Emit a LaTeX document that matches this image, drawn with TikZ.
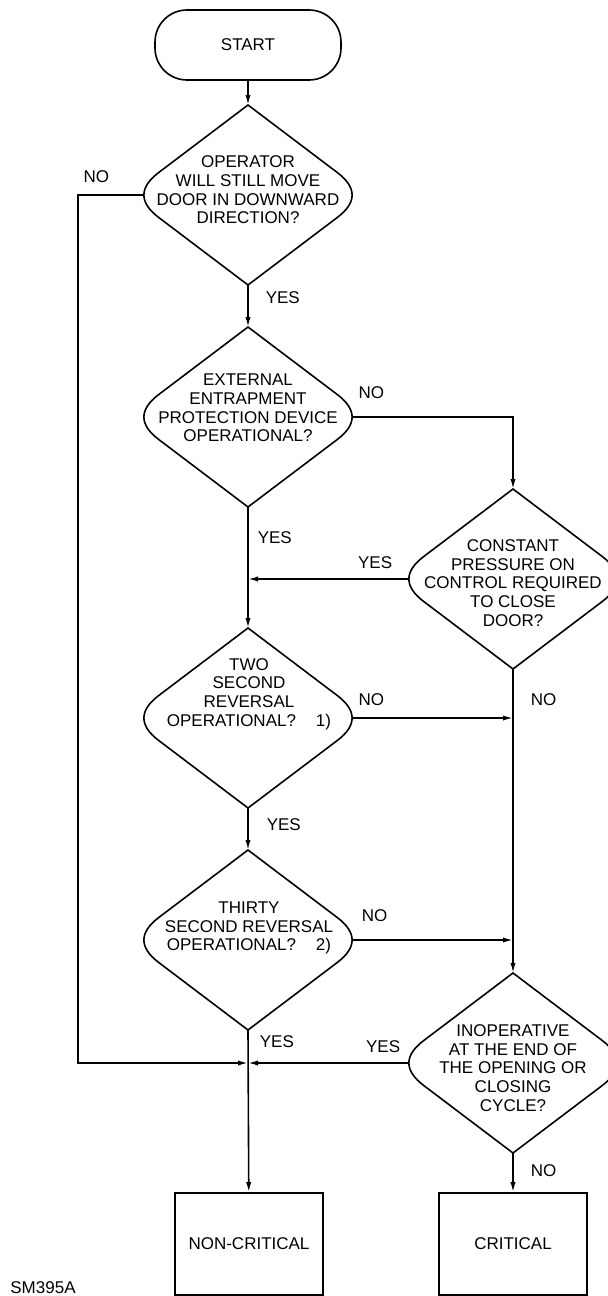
\documentclass[tikz,border=0pt]{standalone}
\usepackage{fontspec}
\setmainfont{Liberation Sans}
\usetikzlibrary{arrows.meta,calc,shapes.geometric,positioning}

\newcommand{\chartfont}{\fontsize{8.5}{9.3}\selectfont}

% outline of a decision with sharp top/bottom and rounded sides
\newcommand{\decisionshape}[1]{%
    \draw[line] (#1.north)
        -- ($(#1.east)!0.25!(#1.north)$)
        .. controls ($(#1.east)!0.0833!(#1.north)$) and ($(#1.east)!0.0833!(#1.south)$) .. ($(#1.east)!0.25!(#1.south)$)
        -- (#1.south)
        -- ($(#1.west)!0.25!(#1.south)$)
        .. controls ($(#1.west)!0.0833!(#1.south)$) and ($(#1.west)!0.0833!(#1.north)$) .. ($(#1.west)!0.25!(#1.north)$)
        -- cycle;
    \coordinate (#1-w) at ($(#1.west)!0.0625!(#1.east)$);
    \coordinate (#1-e) at ($(#1.east)!0.0625!(#1.west)$);
}

\tikzset{
    line/.style={draw, line width=0.8pt},
    flow/.style={draw, line width=0.8pt, -{Latex[length=5pt,width=2.6pt]}},
    decision/.style={shape=diamond, minimum width=119pt, minimum height=90pt, inner sep=0pt, outer sep=0pt},
    qtext/.style={align=center, inner sep=0pt, font=\chartfont},
    terminal/.style={draw, line width=0.8pt, rounded corners=16pt, minimum width=93pt, minimum height=35pt, font=\chartfont},
    result/.style={draw, line width=0.8pt, minimum width=74pt, minimum height=51pt, font=\chartfont},
    lab/.style={inner sep=0pt, font=\chartfont},
}

\begin{document}
\begin{tikzpicture}[x=0.5pt, y=-0.5pt]
    \useasboundingbox (0,0) rectangle (608,1296);

    \node[terminal] (start) at (248,45) {START};

    % decisions
    \node[decision] (d1) at (248,195) {};
    \node[decision] (d2) at (248,417) {};
    \node[decision] (d3) at (513,579) {};
    \node[decision] (d4) at (248,718) {};
    \node[decision] (d5) at (248,940) {};
    \node[decision] (d6) at (513,1063) {};
    \foreach \d in {d1,d2,d3,d4,d5,d6}
    {
        \decisionshape{\d}
    }

    \node[qtext] (q1) at (248,190) {OPERATOR\\WILL STILL MOVE\\DOOR IN DOWNWARD\\DIRECTION?};
    \node[qtext] (q2) at (248,408) {EXTERNAL\\ENTRAPMENT\\PROTECTION DEVICE\\OPERATIONAL?};
    \node[qtext] (q3) at (513,583) {CONSTANT\\PRESSURE ON\\CONTROL REQUIRED\\TO CLOSE\\DOOR?};
    \node[qtext] (q4) at (249,694) {TWO\\SECOND\\REVERSAL\\OPERATIONAL?\hspace{10pt}1)};
    \node[qtext] (q5) at (249,928) {THIRTY\\SECOND REVERSAL\\OPERATIONAL?\hspace{10pt}2)};
    \node[qtext] (q6) at (513,1068) {INOPERATIVE\\AT THE END OF\\THE OPENING OR\\CLOSING\\CYCLE?};

    % outcomes
    \node[result] (noncrit) at (249,1244) {NON-CRITICAL};
    \node[result] (crit) at (513,1244) {CRITICAL};
    \node[lab] (ref) at (43,1288) {SM395A};

    % junctions
    \coordinate (j1) at (d2.south |- d3-w);
    \coordinate (j2) at (d3.south |- d4-e);
    \coordinate (j3) at (d3.south |- d5-e);
    \coordinate (j4) at (d5.south |- d6-w);
    \coordinate (nobend) at (78,1063);

    \draw[flow] (start) -- (d1.north);
    \draw[flow] (d1.south) -- node[lab, right=8.5pt, pos=0.31]{YES} (d2.north);
    \draw[flow] (d1-w) -| node[lab, above=6pt, pos=0.36]{NO} (nobend) -- (j4);
    \draw[flow] (d2-e) -| node[lab, above=9pt, pos=0.06]{NO} (d3.north);
    \draw[flow] (d2.south) -- node[lab, right=4.5pt, pos=0.25]{YES} (d4.north);
    \draw[flow] (d3-w) -- node[lab, above=5pt, pos=0.21]{YES} (j1);
    \draw[flow] (d3.south) -- node[lab, right=8.5pt, pos=0.1]{NO} (d6.north);
    \draw[flow] (d4-e) -- node[lab, above=6pt, pos=0.12]{NO} (j2);
    \draw[flow] (d4.south) -- node[lab, right=9pt, pos=0.4]{YES} (d5.north);
    \draw[flow] (d5-e) -- node[lab, above=8.6pt, pos=0.14]{NO} (j3);
    \draw[flow] (d5.south) -- node[lab, right=5.5pt, pos=0.074]{YES} (noncrit);
    \draw[flow] (d6-w) -- node[lab, above=5pt, pos=0.16]{YES} (j4);
    \draw[flow] (d6.south) -- node[lab, right=8.5pt, pos=0.46]{NO} (crit);
\end{tikzpicture}
\end{document}
